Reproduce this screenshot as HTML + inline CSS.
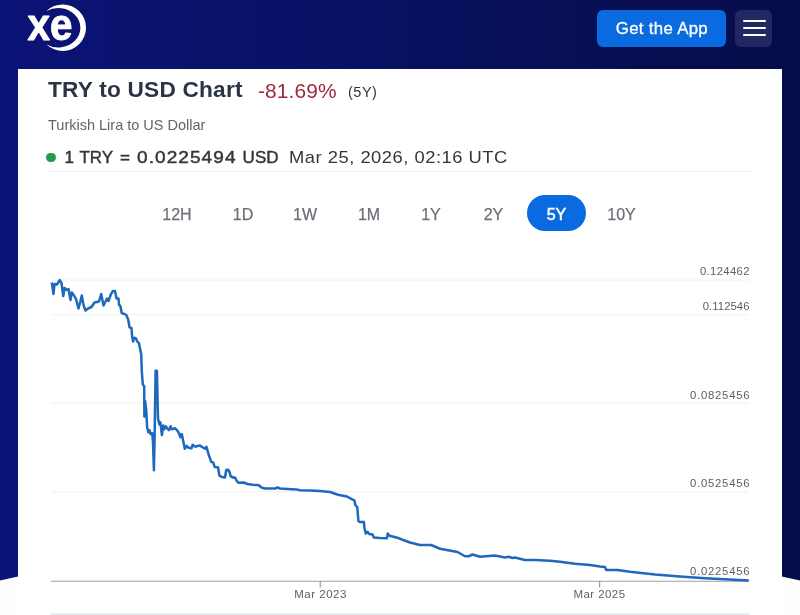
<!DOCTYPE html>
<html lang="en">
<head>
<meta charset="utf-8">
<title>TRY to USD Chart</title>
<style>
html,body{margin:0;padding:0;}
body{width:800px;height:615px;overflow:hidden;background:#fefefe;font-family:"Liberation Sans",sans-serif;position:relative;}
#hero{position:absolute;left:0;top:0;width:800px;height:615px;}
#card{position:absolute;left:18px;top:69px;width:764px;height:546px;background:#fff;}
.abs{position:absolute;white-space:nowrap;line-height:1;}
#btn{position:absolute;left:597px;top:10px;width:129px;height:37px;border-radius:6px;background:#0a6be0;color:#fff;font-size:16px;letter-spacing:0.3px;text-align:center;line-height:38px;-webkit-text-stroke:0.3px #fff;}
#menu{position:absolute;left:735px;top:10px;width:37px;height:37px;border-radius:6px;background:#212862;}
#menu i{position:absolute;left:7.5px;width:23px;height:2.2px;background:#fff;border-radius:1px;}
.tab{position:absolute;top:207px;-webkit-text-stroke:0.25px #6d7078;font-size:16px;color:#6d7078;transform:translateX(-50%);line-height:1;white-space:nowrap;}
#pill{position:absolute;left:527px;top:195px;width:59px;height:36px;border-radius:18px;background:#0a6be0;}
</style>
</head>
<body>
<svg id="hero" width="800" height="615" viewBox="0 0 800 615">
  <defs>
    <linearGradient id="g" x1="0" y1="0" x2="1" y2="0">
      <stop offset="0" stop-color="#0b1477"/>
      <stop offset="1" stop-color="#050d48"/>
    </linearGradient>
  </defs>
  <path d="M0 0H800V580.5Q400 488 0 580.5Z" fill="url(#g)"/>
</svg>
<svg class="abs" style="left:20px;top:0" width="80" height="60" viewBox="20 0 80 60">
  <path d="M46.5 10.95A23.3 23.3 0 1 1 46.5 44.45A22.2 19.7 0 1 0 46.5 10.95Z" fill="#fff"/>
  <text x="27.6" y="39.8" font-family="Liberation Sans, sans-serif" font-weight="bold" font-size="45" fill="#fff" stroke="#fff" stroke-width="0.9" stroke-linejoin="round" textLength="45" lengthAdjust="spacingAndGlyphs">xe</text>
</svg>
<div id="btn"><span style="display:inline-block;transform:scaleX(1.05)">Get the App</span></div>
<div id="menu"><i style="top:10.2px"></i><i style="top:16.9px"></i><i style="top:23.6px"></i></div>

<div id="card"></div>
<div class="abs" id="title" style="left:48px;top:78.5px;font-size:22px;letter-spacing:0.2px;transform:scaleX(1.03);transform-origin:0 50%;font-weight:bold;color:#2b3345;">TRY to USD Chart</div>
<div class="abs" id="pct" style="left:258px;top:80.5px;font-size:20px;letter-spacing:0.1px;transform:scaleX(1.045);transform-origin:0 50%;color:#9c2a3c;">-81.69%</div>
<div class="abs" id="per" style="left:348px;top:84.5px;font-size:14.5px;letter-spacing:0.5px;color:#333;">(5Y)</div>
<div class="abs" id="sub" style="left:48px;top:118px;font-size:14.5px;color:#5f646e;">Turkish Lira to US Dollar</div>
<div class="abs" id="dot" style="left:46.3px;top:152.5px;width:9.4px;height:9.4px;border-radius:50%;background:#1f9d4d;"></div>
<div class="abs" id="rate" style="left:64.5px;top:148.5px;font-size:17px;-webkit-text-stroke:0.45px #33363d;color:#33363d;"><span style="word-spacing:1.1px">1 TRY</span> <span id="r_eq" style="margin-left:2px">=</span> <span id="r_num" style="margin-left:2px;display:inline-block;transform:scaleX(1.12);transform-origin:0 50%;letter-spacing:0.95px;margin-right:12px">0.0225494</span><span id="r_usd" style="margin-left:0.2px;letter-spacing:0.1px"> USD</span></div>
<div class="abs" id="date" style="left:289px;top:148.5px;font-size:17px;letter-spacing:0.47px;transform:scaleX(1.08);transform-origin:0 50%;color:#33363d;">Mar 25, 2026, 02:16 UTC</div>
<div class="abs" style="left:48px;top:171.4px;width:702px;height:1px;background:#f0f0f0;"></div>

<div id="pill"></div>
<div class="tab" style="left:177px">12H</div>
<div class="tab" style="left:243px">1D</div>
<div class="tab" style="left:305px">1W</div>
<div class="tab" style="left:369px">1M</div>
<div class="tab" style="left:431px">1Y</div>
<div class="tab" style="left:493.5px">2Y</div>
<div class="tab" style="left:556.5px;color:#fff;-webkit-text-stroke:0.5px #fff;">5Y</div>
<div class="tab" style="left:621.5px">10Y</div>

<svg class="abs" id="chart" style="left:0;top:250px" width="800" height="365" viewBox="0 250 800 365" font-family="Liberation Sans, sans-serif">
  <g stroke="#f3f3f3" stroke-width="1.2">
    <line x1="51" x2="749" y1="280.2" y2="280.2"/>
    <line x1="51" x2="749" y1="314.7" y2="314.7"/>
    <line x1="51" x2="749" y1="403.1" y2="403.1"/>
    <line x1="51" x2="749" y1="491.6" y2="491.6"/>
  </g>
  <line x1="51" x2="749" y1="614.2" y2="614.2" stroke="#e0e5ee" stroke-width="1.4"/>
  <line x1="51" x2="749" y1="581.2" y2="581.2" stroke="#a0a0a0" stroke-width="1.1"/>
  <line x1="320.2" x2="320.2" y1="581" y2="587.5" stroke="#8a8a8a" stroke-width="1"/>
  <line x1="599.7" x2="599.7" y1="581" y2="587.5" stroke="#8a8a8a" stroke-width="1"/>
  <g font-size="11.3" fill="#606060" text-anchor="end" lengthAdjust="spacing">
    <text x="749.5" y="274.7" textLength="49.6">0.124462</text>
    <text x="749.5" y="310" textLength="46.8">0.112546</text>
    <text x="749.5" y="398.8" textLength="59.4">0.0825456</text>
    <text x="749.5" y="486.6" textLength="59.4">0.0525456</text>
    <text x="749.5" y="574.6" textLength="59.4">0.0225456</text>
  </g>
  <g font-size="11.5" fill="#606060" text-anchor="middle" lengthAdjust="spacing">
    <text x="320.3" y="598.3" textLength="52">Mar 2023</text>
    <text x="599.3" y="598.3" textLength="51.5">Mar 2025</text>
  </g>
  <polyline id="line" fill="none" stroke="#1e69bd" stroke-width="2.5" stroke-linejoin="round" stroke-linecap="butt" points="51.8,282.5 53.5,294 54.5,284 57,284.5 59.8,280 61.5,283 63.2,296 64.5,288 66.5,290 68.5,289 70.5,300 71.8,292.5 74,295.5 76,299 78.5,308.5 80,303 81.8,295.5 83.5,305 85.5,310.5 88,308.5 91.5,307 94.5,302.5 99,301.5 101.2,294 103.5,305.5 107,298.5 108.5,301 111,294 113,291 115,291 116.5,298.5 118.5,298.5 119.1,305.2 120.4,305.9 121.7,313 123.7,313.7 126.3,315 128.2,319.5 129.5,327.3 131.5,328 132.1,336.4 133.1,341.6 134.1,337.7 136,338.4 137.3,341.6 138.9,342.9 140.2,349.4 141.2,354 141.8,371.7 142.8,384.4 144.2,386.3 144.4,416.6 145.1,401 146.3,410.7 147.1,427.3 148.3,432.2 149.6,430.2 150.6,434.1 152.2,433.2 153,442 153.9,470.2 154.6,438 155.6,370.7 156.9,370.7 158,418.5 159.4,424.4 160.4,422.4 161.9,435.1 163.3,425.4 164.3,429.3 165.8,426.3 167.2,428.3 169.1,430.2 170.5,426.3 172.1,429.3 175,428.3 177,430.2 178.9,433.2 180.3,437.1 181.8,434.1 182.8,439 184.8,448.8 186.7,445.9 188.7,447.8 191.6,448.2 192.6,444.9 195.5,446.8 197.4,445.9 200,445.6 205,448.75 206.5,446.9 208.75,455 211.25,461.9 213.1,462.5 214.75,466.9 218.1,467.5 219.4,475.6 221.9,476.9 225,477.5 226.25,470 228.1,469.75 229.75,472.5 230.6,476.25 233.75,477.75 235,477.5 236.9,481.25 238.75,482.75 243.75,482.5 247.5,484 252.5,484.75 258.75,485.25 261.9,487.75 265,488.5 275,488.5 277.5,487.5 280,488.5 287.5,489 296.25,489.4 300,490.25 310,490.6 320,491 330,492 338,494.8 347,496.5 352.2,499.3 354.5,500.5 355.3,505 357.3,507.3 358.4,521 359.8,522.1 363.9,522.1 364.4,527.8 365.8,533.5 367.5,531.8 369.2,534 372.7,534.6 373.8,537.5 380,538 386.9,538.2 387.8,533.5 389.7,535.7 398.3,538 403.9,540.3 410,542.5 420,545 431,545 440,548.75 457.5,552 465,556.25 468.75,556.25 472.5,554.5 480,556.75 495,555.5 505,557.5 508.75,556.75 512.5,558 515,557.5 525,560 535,560 550,560.75 560,561.75 575,563.75 590,565 600,566.5 605,567 606.25,570 617.5,570 630,571.75 655,574.5 680,576.5 705,578.25 730,579.5 748.75,580.5"/>
</svg>
</body>
</html>
